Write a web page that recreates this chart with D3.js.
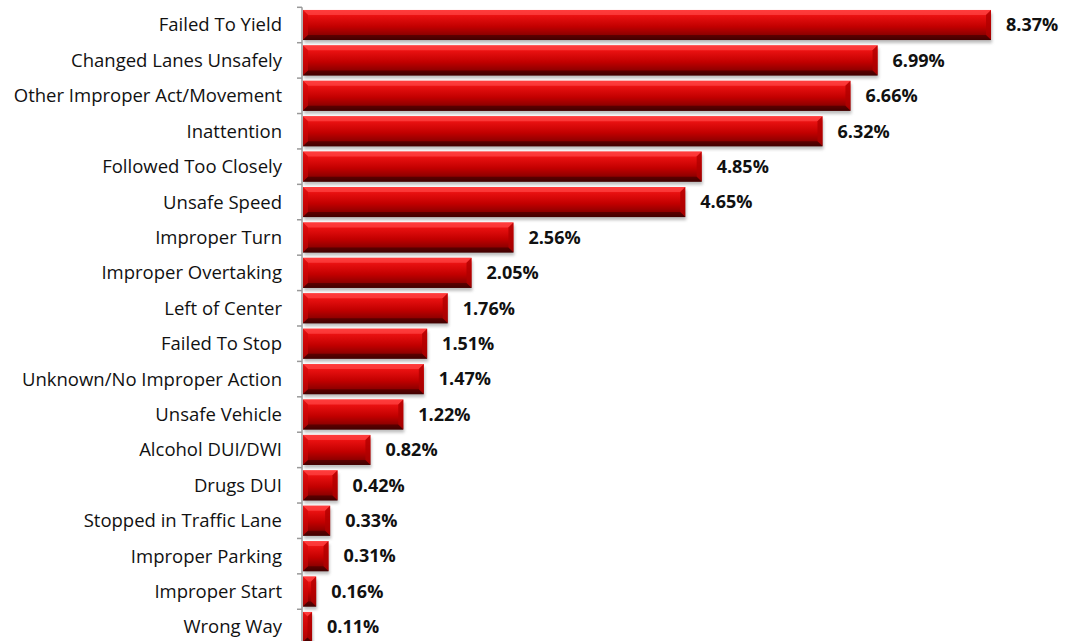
<!DOCTYPE html>
<html><head><meta charset="utf-8">
<script src="https://cdn.jsdelivr.net/npm/d3@7"></script>
<style>body{margin:0;background:#fff;}svg{display:block;}</style>
</head><body>
<svg id="c" width="1074" height="641"></svg>
<script>
const categories = ["Failed To Yield","Changed Lanes Unsafely","Other Improper Act/Movement","Inattention","Followed Too Closely","Unsafe Speed","Improper Turn","Improper Overtaking","Left of Center","Failed To Stop","Unknown/No Improper Action","Unsafe Vehicle","Alcohol DUI/DWI","Drugs DUI","Stopped in Traffic Lane","Improper Parking","Improper Start","Wrong Way"];
const values = [8.37,6.99,6.66,6.32,4.85,4.65,2.56,2.05,1.76,1.51,1.47,1.22,0.82,0.42,0.33,0.31,0.16,0.11];
const labels = values.map(v => v.toFixed(2) + "%");

const svg = d3.select("#c");
const x0 = 303;
const x = d3.scaleLinear().domain([0, 1]).range([x0, x0 + 82.2]);
const y = d3.scaleBand().domain(categories).range([7.3, 7.3 + 18 * 35.41]).paddingInner(0.15).paddingOuter(0.075);

const defs = svg.append("defs");
const g = defs.append("linearGradient").attr("id","bg").attr("x1",0).attr("y1",0).attr("x2",0).attr("y2",1);
[[0,"#ff2a2a"],[0.2,"#e81010"],[0.55,"#c20000"],[0.85,"#8a0000"],[1,"#4a0000"]].forEach(([o,c])=>g.append("stop").attr("offset",o).attr("stop-color",c));
const f = defs.append("filter").attr("id","sh").attr("x","-10%").attr("y","-30%").attr("width","130%").attr("height","180%");
f.append("feGaussianBlur").attr("stdDeviation",1.5);

const bh = y.bandwidth();
const bars = svg.append("g").selectAll("g").data(categories).join("g");
bars.append("rect").attr("x", x0+1).attr("y", d => y(d)+3).attr("width", (d,i)=>x(values[i])-x0).attr("height", bh)
  .attr("fill","#888").attr("opacity",0.55).attr("filter","url(#sh)");
bars.append("rect").attr("x", x0).attr("y", d => y(d)).attr("width", (d,i)=>x(values[i])-x0).attr("height", bh).attr("fill","url(#bg)");
const bv = 5;
bars.each(function(d,i){
  const gg = d3.select(this);
  const xa = x0, xb = x(values[i]), ya = y(d), yb = y(d)+bh;
  const b = Math.min(bv, (xb-xa)/2);
  gg.append("polygon").attr("points",[[xa,ya],[xb,ya],[xb-b,ya+b],[xa+b,ya+b]].join(" ")).attr("fill","#ff4545").attr("opacity",0.7);
  gg.append("polygon").attr("points",[[xb,ya],[xb,yb],[xb-b,yb-b],[xb-b,ya+b]].join(" ")).attr("fill","#b00000").attr("opacity",0.8);
  gg.append("polygon").attr("points",[[xa,ya],[xa+b,ya+b],[xa+b,yb-b],[xa,yb]].join(" ")).attr("fill","#d00808").attr("opacity",0.6);
  gg.append("polygon").attr("points",[[xa,yb],[xa+b,yb-b],[xb-b,yb-b],[xb,yb]].join(" ")).attr("fill","#3a0000").attr("opacity",0.6);
});

const axG = svg.append("g");
axG.append("line").attr("x1",302).attr("x2",302).attr("y1",7.3).attr("y2",660).attr("stroke","#999").attr("stroke-width",1.5);
const bounds = d3.range(19).map(i => 7.3 + i*35.41);
axG.selectAll("line.t").data(bounds).join("line").attr("class","t").attr("x1",297).attr("x2",302).attr("y1",d=>d).attr("y2",d=>d).attr("stroke","#999").attr("stroke-width",1.5);

svg.append("g").selectAll("text").data(categories).join("text")
  .attr("x",282).attr("y",d=>y(d)+bh/2).attr("dy","0.35em").attr("text-anchor","end")
  .attr("font-family","'Open Sans', sans-serif").attr("font-size",18.5).attr("fill","#111").text(d=>d);

svg.append("g").selectAll("text").data(categories).join("text")
  .attr("x",(d,i)=>x(values[i])+15).attr("y",d=>y(d)+bh/2).attr("dy","0.35em")
  .attr("font-family","'Open Sans', sans-serif").attr("font-weight","bold").attr("font-size",18).attr("fill","#111").text((d,i)=>labels[i]);
</script>
</body></html>
